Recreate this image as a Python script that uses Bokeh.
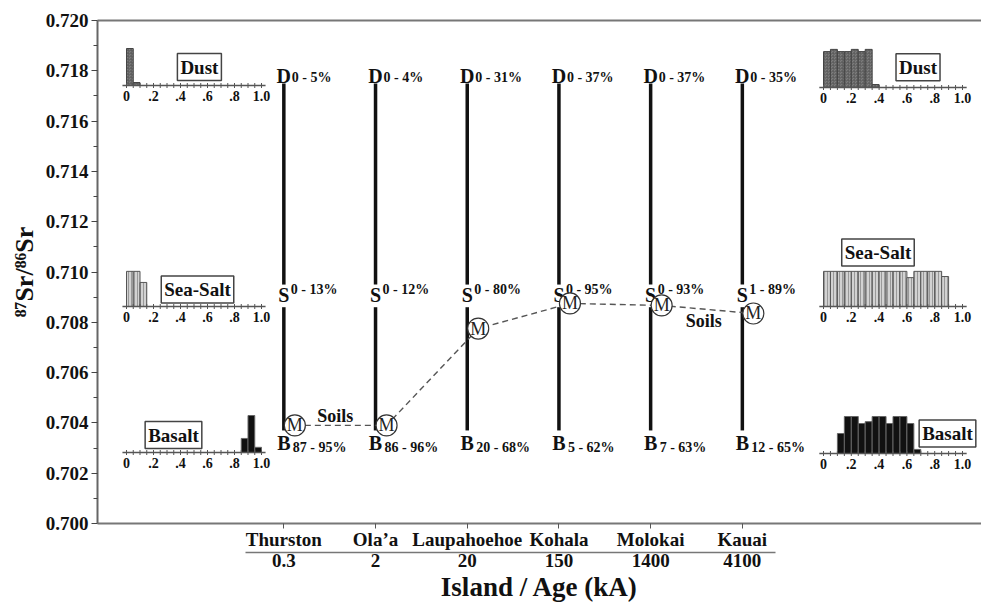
import math
from bokeh.plotting import figure
from bokeh.models import Range1d, LinearAxis, FixedTicker, Label, PrintfTickFormatter
from bokeh.core.properties import value
from bokeh.embed import file_html
from bokeh.resources import INLINE

# ---------------- data ----------------
islands = ["Thurston", "Ola\u2019a", "Laupahoehoe", "Kohala", "Molokai", "Kauai"]
ages = ["0.3", "2", "20", "150", "1400", "4100"]
positions = [1, 2, 3, 4, 5, 6]

dust_sr = 0.7178
seasalt_sr = 0.7091
basalt_sr = 0.7032

dust_pct = ["0 - 5%", "0 - 4%", "0 - 31%", "0 - 37%", "0 - 37%", "0 - 35%"]
seasalt_pct = ["0 - 13%", "0 - 12%", "0 - 80%", "0 - 95%", "0 - 93%", "1 - 89%"]
basalt_pct = ["87 - 95%", "86 - 96%", "20 - 68%", "5 - 62%", "7 - 63%", "12 - 65%"]

soil_sr = [0.7039, 0.7039, 0.70775, 0.70875, 0.70867, 0.70835]

y_ticks = [0.700, 0.702, 0.704, 0.706, 0.708, 0.710, 0.712, 0.714, 0.716, 0.718, 0.720]
y_minor = [0.701, 0.703, 0.705, 0.707, 0.709, 0.711, 0.713, 0.715, 0.717, 0.719]

# inset histograms (fraction contributed, bin width 0.05) - Thurston (left) and Kauai (right)
bin_width = 0.05
thurston_dust_bins = [0.00, 0.05]
thurston_dust_freq = [10.0, 0.8]
thurston_salt_bins = [0.00, 0.05, 0.10]
thurston_salt_freq = [9.5, 9.5, 6.5]
thurston_basalt_bins = [0.85, 0.90, 0.95]
thurston_basalt_freq = [3.8, 10.0, 1.4]

kauai_dust_bins = [0.00, 0.05, 0.10, 0.15, 0.20, 0.25, 0.30, 0.35]
kauai_dust_freq = [9.7, 10.3, 9.7, 9.7, 10.3, 9.7, 10.3, 0.8]
kauai_salt_bins = [0.00, 0.05, 0.10, 0.15, 0.20, 0.25, 0.30, 0.35, 0.40,
                   0.45, 0.50, 0.55, 0.60, 0.65, 0.70, 0.75, 0.80, 0.85]
kauai_salt_freq = [9.5, 9.5, 9.5, 9.5, 9.5, 9.5, 9.5, 9.5, 9.5,
                   9.5, 9.5, 9.5, 7.8, 9.5, 9.5, 9.5, 9.5, 8.1]
kauai_basalt_bins = [0.10, 0.15, 0.20, 0.25, 0.30, 0.35, 0.40, 0.45, 0.50, 0.55, 0.60, 0.65]
kauai_basalt_freq = [5.4, 10.0, 10.0, 8.1, 8.6, 10.0, 10.0, 8.1, 10.0, 10.0, 8.1, 1.1]

inset_ticks = [0.0, 0.2, 0.4, 0.6, 0.8, 1.0]
inset_tick_labels = ["0", ".2", ".4", ".6", ".8", "1.0"]
inset_minor = [i * 0.05 for i in range(21)]

# ---------------- layout / style ----------------
FONT = "Liberation Serif"
W, H = 981, 605
FL, FR, FT, FB = 97, 981, 20, 523

p = figure(width=W, height=H, output_backend="svg", toolbar_location=None,
           x_range=Range1d(-1.032, 8.608), y_range=Range1d(0.700, 0.720),
           x_axis_location=None, y_axis_location=None,
           min_border_left=FL, min_border_right=W - FR, min_border_top=FT,
           min_border_bottom=H - FB)
p.outline_line_color = None
p.grid.visible = False
p.background_fill_color = "white"


def inset_xrange(px0, px1):
    per = px1 - px0
    return Range1d(-(px0 - FL) / per, 1 + (FR - px1) / per)


def inset_yrange(base_px, px_per_unit):
    return Range1d(-(FB - base_px) / px_per_unit, (base_px - FT) / px_per_unit)


PPU = 3.7
p.extra_x_ranges = {"lx": inset_xrange(126, 261), "rx": inset_xrange(823, 962)}
p.extra_y_ranges = {
    "ld": inset_yrange(85, PPU), "ls": inset_yrange(306, PPU), "lb": inset_yrange(452, PPU),
    "rd": inset_yrange(87, PPU), "rs": inset_yrange(306, PPU), "rb": inset_yrange(453, PPU),
}

# ---------------- axes ----------------
yax = LinearAxis(ticker=FixedTicker(ticks=y_ticks, minor_ticks=y_minor),
                 formatter=PrintfTickFormatter(format="%.3f"))
yax.axis_line_color = "#666666"
yax.axis_line_width = 2
yax.major_tick_out = 6
yax.major_tick_in = 0
yax.minor_tick_out = 4
yax.minor_tick_in = 0
yax.major_tick_line_color = "#444444"
yax.minor_tick_line_color = "#444444"
yax.major_label_text_font = FONT
yax.major_label_text_font_style = "bold"
yax.major_label_text_font_size = "19px"
yax.major_label_text_color = "#111111"
yax.major_label_standoff = 3
yax.axis_label = "\u2078\u2077Sr/\u2078\u2076Sr"
yax.axis_label_text_font = FONT
yax.axis_label_text_font_style = "bold"
yax.axis_label_text_font_size = "26px"
yax.axis_label_text_color = "#111111"
yax.axis_label_standoff = 4
p.add_layout(yax, "left")

top = LinearAxis(ticker=FixedTicker(ticks=[]))
top.axis_line_color = "#777777"
top.axis_line_width = 2
top.major_tick_line_color = None
top.minor_tick_line_color = None
top.major_label_text_font_size = "0px"
top.major_tick_out = 0
p.add_layout(top, "above")

xax = LinearAxis(ticker=FixedTicker(ticks=positions, minor_ticks=[]),
                 major_label_overrides={pos: name for pos, name in zip(positions, islands)})
xax.axis_line_color = "#777777"
xax.axis_line_width = 2
xax.major_tick_out = 5
xax.major_tick_in = 0
xax.major_tick_line_color = "#555555"
xax.minor_tick_line_color = None
xax.major_label_text_font = FONT
xax.major_label_text_font_style = "bold"
xax.major_label_text_font_size = "19px"
xax.major_label_text_color = "#111111"
xax.major_label_standoff = 0
p.add_layout(xax, "below")

aax = LinearAxis(ticker=FixedTicker(ticks=positions, minor_ticks=[]),
                 major_label_overrides={pos: a for pos, a in zip(positions, ages)},
                 bounds=(0.58, 6.36))
aax.axis_line_color = "#777777"
aax.axis_line_width = 1.5
aax.major_tick_line_color = None
aax.minor_tick_line_color = None
aax.major_tick_out = 0
aax.major_tick_in = 0
aax.major_label_text_font = FONT
aax.major_label_text_font_style = "bold"
aax.major_label_text_font_size = "19px"
aax.major_label_text_color = "#111111"
aax.major_label_standoff = 1
aax.axis_label = "Island / Age (kA)"
aax.axis_label_text_font = FONT
aax.axis_label_text_font_style = "bold"
aax.axis_label_text_font_size = "27px"
aax.axis_label_text_color = "#111111"
aax.axis_label_standoff = 2
p.add_layout(aax, "below")

# ---------------- mixing lines ----------------
n = len(positions)
p.segment(x0=positions, x1=positions, y0=[seasalt_sr + 0.0004] * n, y1=[dust_sr - 0.0003] * n,
          line_color="#111111", line_width=3.5)
p.segment(x0=positions, x1=positions, y0=[basalt_sr + 0.0005] * n, y1=[seasalt_sr - 0.0005] * n,
          line_color="#111111", line_width=3.5)

letter_kw = dict(text_align="center", text_baseline="middle", text_font=value(FONT),
                 text_font_style="bold", text_font_size="20px", text_color="#111111")
pct_kw = dict(text_align="left", text_baseline="middle", text_font=value(FONT),
              text_font_style="bold", text_font_size="14px", text_color="#111111")
p.text(x=positions, y=[dust_sr] * n, text=["D"] * n, **letter_kw)
p.text(x=positions, y=[seasalt_sr] * n, text=["S"] * n, **letter_kw)
p.text(x=positions, y=[basalt_sr] * n, text=["B"] * n, **letter_kw)
p.text(x=positions, y=[dust_sr] * n, text=dust_pct, x_offset=8, y_offset=2, **pct_kw)
p.text(x=positions, y=[seasalt_sr] * n, text=seasalt_pct, x_offset=7, y_offset=-5, **pct_kw)
p.text(x=positions, y=[basalt_sr] * n, text=basalt_pct, x_offset=9, y_offset=4, **pct_kw)

# ---------------- soils ----------------
m_off = 0.12
mx = [x + m_off for x in positions]
p.line(x=mx, y=soil_sr, line_color="#555555", line_width=1.4, line_dash="6 4")
p.scatter(x=mx, y=soil_sr, marker="circle", size=21, fill_color="white",
          line_color="#333333", line_width=1.2)
p.text(x=mx, y=soil_sr, text=["M"] * n, text_align="center", text_baseline="middle",
       text_font=value(FONT), text_font_size="18px", text_color="#222222")

soil_kw = dict(text_font=FONT, text_font_style="bold", text_font_size="18px",
               text_color="#111111", text_align="center", text_baseline="middle")
p.add_layout(Label(x=1.56, y=0.70429, text="Soils", **soil_kw))
p.add_layout(Label(x=5.58, y=0.70807, text="Soils", **soil_kw))

# ---------------- inset histograms ----------------
styles = {
    "dust": dict(fill_color="#7d7d7d", hatch_pattern="criss_cross", hatch_color="#5a5a5a",
                 hatch_scale=3, hatch_weight=0.6, line_color="#444444", line_width=1),
    "salt": dict(fill_color="#d2d2d2", hatch_pattern="vertical_line", hatch_color="#8a8a8a",
                 hatch_scale=3, hatch_weight=0.8, line_color="#555555", line_width=1),
    "basalt": dict(fill_color="#111111", line_color="#666666", line_width=1),
}

insets = [
    ("lx", "ld", thurston_dust_bins, thurston_dust_freq, "dust", "Dust", 0.54, 5.0),
    ("lx", "ls", thurston_salt_bins, thurston_salt_freq, "salt", "Sea-Salt", 0.526, 4.6),
    ("lx", "lb", thurston_basalt_bins, thurston_basalt_freq, "basalt", "Basalt", 0.348, 4.7),
    ("rx", "rd", kauai_dust_bins, kauai_dust_freq, "dust", "Dust", 0.68, 5.5),
    ("rx", "rs", kauai_salt_bins, kauai_salt_freq, "salt", "Sea-Salt", 0.392, 14.6),
    ("rx", "rb", kauai_basalt_bins, kauai_basalt_freq, "basalt", "Basalt", 0.892, 5.4),
]

for xr, yr, bins, freq, kind, name, lx, ly in insets:
    p.quad(left=bins, right=[b + bin_width for b in bins], bottom=[0] * len(bins), top=freq,
           x_range_name=xr, y_range_name=yr, **styles[kind])
    p.segment(x0=[-0.03], x1=[1.03], y0=[0], y1=[0], x_range_name=xr, y_range_name=yr,
              line_color="#555555", line_width=1.5)
    p.scatter(x=inset_minor, y=[0] * len(inset_minor), marker="dash", angle=math.pi / 2,
              size=5, line_color="#555555", line_width=1, x_range_name=xr, y_range_name=yr)
    p.text(x=inset_ticks, y=[0] * len(inset_ticks), text=inset_tick_labels, y_offset=5,
           text_align="center", text_baseline="top", text_font=value(FONT),
           text_font_style="bold", text_font_size="14px", text_color="#111111",
           x_range_name=xr, y_range_name=yr)
    p.add_layout(Label(x=lx, y=ly, text=name, x_range_name=xr, y_range_name=yr,
                       text_font=FONT, text_font_style="bold", text_font_size="19px",
                       text_color="#111111", text_align="center", text_baseline="middle",
                       border_line_color="#444444", border_line_width=1.5,
                       background_fill_color="white", padding=3))

open("out.html", "w").write(file_html(p, INLINE))
